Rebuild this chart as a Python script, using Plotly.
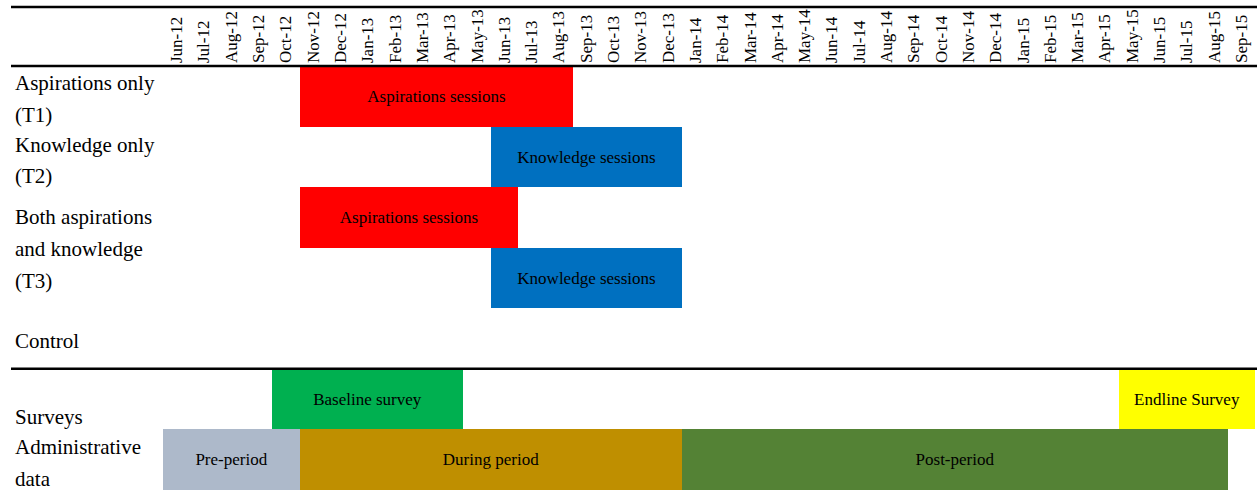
import plotly.graph_objects as go

months = ["Jun-12", "Jul-12", "Aug-12", "Sep-12", "Oct-12", "Nov-12", "Dec-12",
          "Jan-13", "Feb-13", "Mar-13", "Apr-13", "May-13", "Jun-13", "Jul-13",
          "Aug-13", "Sep-13", "Oct-13", "Nov-13", "Dec-13",
          "Jan-14", "Feb-14", "Mar-14", "Apr-14", "May-14", "Jun-14", "Jul-14",
          "Aug-14", "Sep-14", "Oct-14", "Nov-14", "Dec-14",
          "Jan-15", "Feb-15", "Mar-15", "Apr-15", "May-15", "Jun-15", "Jul-15",
          "Aug-15", "Sep-15"]

task_names = ["Aspirations sessions", "Knowledge sessions", "Aspirations sessions",
              "Knowledge sessions", "Baseline survey", "Endline Survey",
              "Pre-period", "During period", "Post-period"]
task_rows = [0, 1, 2, 3, 5, 5, 6, 6, 6]
task_start = ["Nov-12", "Jun-13", "Nov-12", "Jun-13", "Oct-12", "May-15",
              "Jun-12", "Nov-12", "Jan-14"]
task_end = ["Aug-13", "Dec-13", "Jun-13", "Dec-13", "Apr-13", "Sep-15",
            "Oct-12", "Dec-13", "Aug-15"]
task_colors = ["#FF0000", "#0070C0", "#FF0000", "#0070C0", "#00B050", "#FFFF00",
               "#ADB9CA", "#BF8F00", "#548235"]

label_lines = [["Aspirations only", "(T1)"],
               ["Knowledge only", "(T2)"],
               ["Both aspirations", "and knowledge", "(T3)"],
               ["Control"],
               ["Surveys"],
               ["Administrative", "data"]]
label_centers = [0.045, 1.06, 2.52, 4.04, 5.295, 6.055]

FONT = "Liberation Serif, serif"
W, H = 1257, 490
ML, MT = 163, 66

starts = [months.index(s) for s in task_start]
durs = [months.index(e) - months.index(s) + 1 for s, e in zip(task_start, task_end)]

fig = go.Figure()
fig.add_trace(go.Bar(
    orientation="h",
    y=task_rows,
    x=durs,
    base=[s - 0.5 for s in starts],
    width=1.0,
    marker=dict(color=task_colors, line=dict(width=0)),
    text=task_names,
    textposition="inside",
    insidetextanchor="middle",
    textangle=0,
    constraintext="none",
    textfont=dict(family=FONT, size=17, color="black"),
    hoverinfo="skip",
    showlegend=False,
))

annotations = []
step = 0.528
for lines, c in zip(label_lines, label_centers):
    n = len(lines)
    for k, t in enumerate(lines):
        yy = c + (k - (n - 1) / 2) * step
        annotations.append(dict(
            text=t, xref="paper", yref="y", x=(13 - ML) / (W - ML), y=yy,
            xanchor="left", yanchor="middle", showarrow=False,
            font=dict(family=FONT, size=21, color="black")))

x0p = (11 - ML) / (W - ML)
shapes = [
    dict(type="line", xref="paper", yref="paper", x0=x0p, x1=1.0,
         y0=(H - 7) / (H - MT), y1=(H - 7) / (H - MT),
         line=dict(color="black", width=2.5)),
    dict(type="line", xref="paper", yref="paper", x0=x0p, x1=1.0,
         y0=1.0, y1=1.0, line=dict(color="black", width=2.5)),
    dict(type="line", xref="paper", yref="y", x0=x0p, x1=1.0,
         y0=4.5, y1=4.5, line=dict(color="black", width=2.5)),
]

fig.update_layout(
    width=W, height=H,
    margin=dict(l=ML, r=0, t=MT, b=0, autoexpand=False),
    paper_bgcolor="white", plot_bgcolor="white",
    bargap=0,
    annotations=annotations,
    shapes=shapes,
    xaxis=dict(
        range=[-0.5, 39.57], side="top",
        tickmode="array", tickvals=list(range(len(months))), ticktext=months,
        tickangle=-90, tickfont=dict(family=FONT, size=17, color="black"),
        showgrid=False, zeroline=False, showline=False, ticks="",
        ticklabelstandoff=2,
        automargin=False, fixedrange=True,
    ),
    yaxis=dict(
        range=[6.5, -0.5], showticklabels=False, showgrid=False,
        zeroline=False, showline=False, ticks="", automargin=False,
        fixedrange=True,
    ),
)

fig.write_html(
    "out.html",
    config={"displayModeBar": False},
    post_script="document.body.style.margin='0';document.body.style.overflow='hidden';",
)
